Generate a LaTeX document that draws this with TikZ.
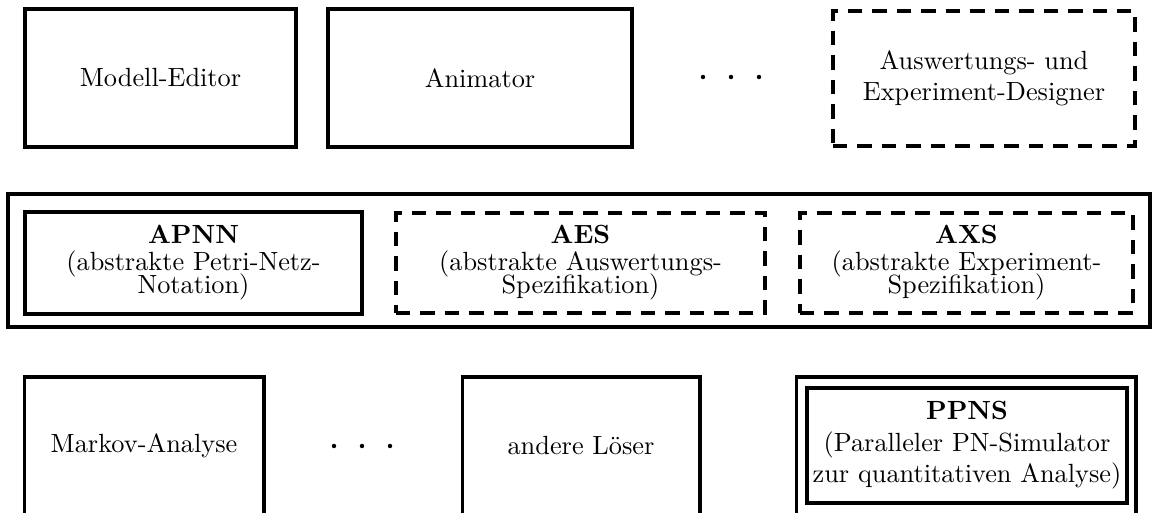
\documentclass[tikz,border=0pt]{standalone}
\usepackage{fontspec}
\usetikzlibrary{fit}

\tikzset{
  frame/.style={inner sep=0pt},
  solidbox/.style={frame, draw, line width=1.5pt},
  dashbox/.style={frame, draw, line width=1.5pt, dash pattern=on 5.5pt off 3.8pt},
  openbox/.style={line width=1.5pt},
  caption/.style={inner sep=0pt, align=center, font=\fontsize{10pt}{12pt}\selectfont},
  dot/.style={circle, fill, inner sep=0pt, minimum size=1.7pt}
}

\begin{document}
\begin{tikzpicture}[x=0.38pt, y=-0.38pt]
  \useasboundingbox (0,0) rectangle (1152,513);

  % top row: tools
  \node[solidbox, fit={(25,9) (296,147)}] (editor) {};
  \node[caption] (editorT) at (editor.center) {Modell-Editor};
  \node[solidbox, fit={(328,9) (632,147)}] (animator) {};
  \node[caption] (animatorT) at (animator.center) {Animator};
  \node[dot] (t1) at (703,77) {};
  \node[dot] (t2) at (731,77) {};
  \node[dot] (t3) at (759,77) {};
  \node[dashbox, fit={(833,11) (1135,146)}] (designer) {};
  \node[caption] (designerT) at (designer.center)
    {Auswertungs- und\\Experiment-Designer};

  % middle layer: abstract notations
  \node[solidbox, fit={(8,194) (1150,327)}] (abstract) {};
  \node[solidbox, fit={(25,212) (362,314)}] (apnn) {};
  \node[caption] (apnnT) at (apnn.center)
    {\textbf{APNN}\\[-2pt](abstrakte Petri-Netz-\\[-3pt]Notation)};
  \node[dashbox, fit={(396,213) (765,313)}] (aes) {};
  \node[caption] (aesT) at (aes.center)
    {\textbf{AES}\\[-2pt](abstrakte Auswertungs-\\[-3pt]Spezifikation)};
  \node[dashbox, fit={(800,213) (1133,313)}] (axs) {};
  \node[caption] (axsT) at (axs.center)
    {\textbf{AXS}\\[-2pt](abstrakte Experiment-\\[-3pt]Spezifikation)};

  % bottom row: solvers, open towards the bottom edge
  \node[frame, fit={(25,378) (263,513)}] (markov) {};
  \draw[openbox] (markov.south west) |- (markov.north east) -- (markov.south east);
  \node[caption] (markovT) at (markov.center) {Markov-Analyse};
  \node[dot] (b1) at (334,446) {};
  \node[dot] (b2) at (362,446) {};
  \node[dot] (b3) at (390,446) {};
  \node[frame, fit={(463,378) (699,513)}] (solver) {};
  \draw[openbox] (solver.south west) |- (solver.north east) -- (solver.south east);
  \node[caption] (solverT) at (solver.center) {andere Löser};
  \node[frame, fit={(797,378) (1135,513)}] (ppnsouter) {};
  \draw[openbox] (ppnsouter.south west) |- (ppnsouter.north east) -- (ppnsouter.south east);
  \node[solidbox, fit={(807,388) (1127,503)}] (ppns) {};
  \node[caption] (ppnsT) at (ppns.center)
    {\textbf{PPNS}\\(Paralleler PN-Simulator\\zur quantitativen Analyse)};
\end{tikzpicture}
\end{document}
